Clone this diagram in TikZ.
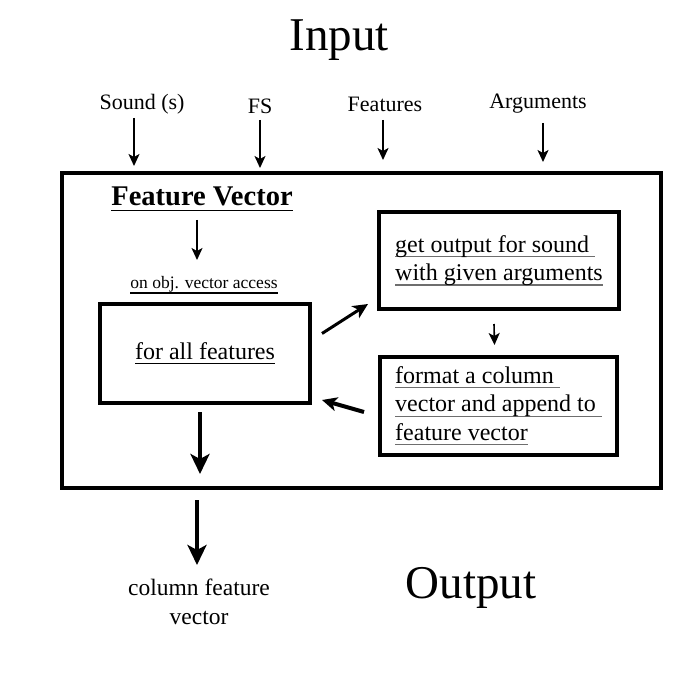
\documentclass[tikz,border=0pt]{standalone}
\usepackage{fontspec}
\setmainfont{Liberation Serif}
\usetikzlibrary{arrows.meta,calc}
\definecolor{ulgray}{HTML}{6E6E6E}
\newcommand\myul[2][ulgray]{\leavevmode\setbox0\hbox{#2}\rlap{\color{#1}\rule[-5pt]{\wd0}{1.3pt}}\box0}
\begin{document}
\begin{tikzpicture}[x=1pt,y=-1pt,
  box/.style={draw,line width=4pt,inner sep=0pt,align=left},
  thin arrow/.style={line width=1.6pt,-{Stealth[length=12pt,width=11pt,inset=3pt]}},
  thick arrow/.style={line width=4pt,-{Stealth[length=20pt,width=19pt,inset=5pt]}},
  mid arrow/.style={line width=3pt,-{Stealth[length=15pt,width=14pt,inset=4pt]}},
  lbl/.style={inner sep=0pt,font=\fontsize{22}{25}\selectfont},
  boxtxt/.style={font=\fontsize{24}{28.5}\selectfont}]
\useasboundingbox (0,0) rectangle (700,700);
% titles
\node[inner sep=0pt,font=\fontsize{47}{50}\selectfont] (input) at (339,40) {Input};
\node[inner sep=0pt,font=\fontsize{47}{50}\selectfont] (output) at (471,588) {Output};
% top labels
\node[lbl] (snd) at (142,104) {Sound (s)};
\node[lbl] (fs) at (260,106) {FS};
\node[lbl] (feat) at (385,104) {Features};
\node[lbl] (args) at (538,104) {Arguments};
% outer box
\node[box,minimum width=599pt,minimum height=315pt] (main) at (361.5,330.5) {};
% top arrows
\coordinate (a1s) at (134,118); \coordinate (a1e) at (134,166);
\coordinate (a2s) at (260,120); \coordinate (a2e) at (260,168);
\coordinate (a3s) at (383,120); \coordinate (a3e) at (383,160);
\coordinate (a4s) at (543,123); \coordinate (a4e) at (543,162);
\draw[thin arrow] (a1s) -- (a1e);
\draw[thin arrow] (a2s) -- (a2e);
\draw[thin arrow] (a3s) -- (a3e);
\draw[thin arrow] (a4s) -- (a4e);
% feature vector heading
\node[inner sep=0pt,font=\fontsize{28.5}{30}\bfseries] (fv) at (202,199) {\myul[black]{Feature Vector}};
\node[inner sep=0pt,font=\fontsize{17.5}{20}\selectfont] (acc) at (204,285) {\myul[black]{on obj. vector access}};
\draw[thin arrow] (197,220) -- (197,260);
% inner boxes
\node[box,boxtxt,minimum width=210pt,minimum height=99pt] (fa) at (205,353.5) {\myul[black]{for all features}};
\node[box,boxtxt,minimum width=240pt,minimum height=97pt] (gb) at (499,260.5) {\myul{get output for sound }\\\myul{with given arguments}};
\node[box,boxtxt,minimum width=237pt,minimum height=98pt] (fm) at (498.5,406) {\myul{format a column }\\\myul{vector and append to }\\\myul{feature vector}};
% connectors
\draw[mid arrow] ($(fa.east)+(10,-20)$) -- ($(gb.south west)+(-9,-7)$);
\draw[thin arrow] ($(gb.south)+(-5,13)$) -- ($(fm.north)+(-4,-10)$);
\draw[mid arrow,line width=4pt] ($(fm.west)+(-14,6)$) -- ($(fa.south east)+(10,-5)$);
\coordinate (o1s) at (200,412); \coordinate (o1e) at (200,474);
\draw[thick arrow] (o1s) -- (o1e);
\coordinate (o2s) at (197,500); \coordinate (o2e) at (197,565);
\node[inner sep=0pt,align=center,font=\fontsize{23.5}{28.5}\selectfont] (cfv) at (199,602) {column feature\\vector};
\draw[thick arrow] (o2s) -- (o2e);
\end{tikzpicture}
\end{document}
